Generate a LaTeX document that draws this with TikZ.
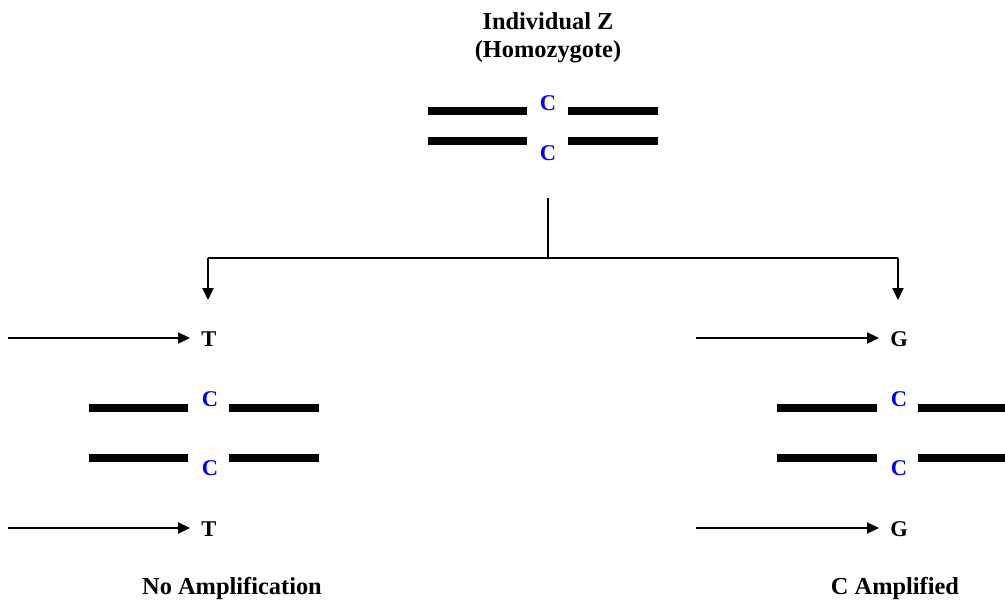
\documentclass[tikz,border=0pt]{standalone}
\usepackage{fontspec}
\setmainfont{Liberation Serif}
\usetikzlibrary{arrows.meta}
\definecolor{baseblue}{RGB}{0,0,255}
\begin{document}
\begin{tikzpicture}[x=1pt,y=-1pt,
  lbl/.style={font=\bfseries\fontsize{24.4}{28}\selectfont, inner sep=0pt},
  base/.style={font=\bfseries\fontsize{22.5}{26}\selectfont, inner sep=0pt},
  cbase/.style={base, text=baseblue},
  strand/.style={line width=8pt},
  link/.style={line width=2.2pt},
  arr/.style={line width=2.2pt, -{Triangle[length=12pt,width=11pt]}}]
\useasboundingbox (0,0) rectangle (1005,602);

% parent pair
\node[lbl] (title) at (548,21) {Individual Z};
\node[lbl] (sub) at (548,51.5) {(Homozygote)};
\node[cbase] (pc1) at (548,103) {C};
\node[cbase] (pc2) at (548,153) {C};
\draw[strand] (428,111) -- (527,111) (568,111) -- (658,111);
\draw[strand] (428,141) -- (527,141) (568,141) -- (658,141);

% split into two reactions
\coordinate (stem) at (548,198);
\coordinate (fork) at (548,258);
\coordinate (lc) at (208,258);
\coordinate (rc) at (898,258);
\coordinate (ld) at (208,300);
\coordinate (rd) at (898,300);
\draw[link] (stem) -- (fork);
\draw[link] (lc) -- (rc);
\draw[arr] (lc) -- (ld);
\draw[arr] (rc) -- (rd);

% left: T primers
\node[base] (lt1) at (209,339) {T};
\node[base] (lt2) at (209,529) {T};
\coordinate (lp1) at (8,338);
\coordinate (lp2) at (8,528);
\coordinate (la1) at (190,338);
\coordinate (la2) at (190,528);
\draw[arr] (lp1) -- (la1);
\draw[arr] (lp2) -- (la2);
\node[cbase] (lc1) at (210,399) {C};
\node[cbase] (lc2) at (210,468) {C};
\draw[strand] (89,408) -- (188,408) (229,408) -- (319,408);
\draw[strand] (89,458) -- (188,458) (229,458) -- (319,458);
\node[lbl] (lres) at (232,588.5) {No Amplification};

% right: G primers
\node[base] (rg1) at (899,339) {G};
\node[base] (rg2) at (899,529) {G};
\coordinate (rp1) at (696,338);
\coordinate (rp2) at (696,528);
\coordinate (ra1) at (879,338);
\coordinate (ra2) at (879,528);
\draw[arr] (rp1) -- (ra1);
\draw[arr] (rp2) -- (ra2);
\node[cbase] (rc1) at (899,399) {C};
\node[cbase] (rc2) at (899,468) {C};
\draw[strand] (777,408) -- (877,408) (918,408) -- (1005,408);
\draw[strand] (777,458) -- (877,458) (918,458) -- (1005,458);
\node[lbl] (rres) at (895,589) {C Amplified};
\end{tikzpicture}
\end{document}
